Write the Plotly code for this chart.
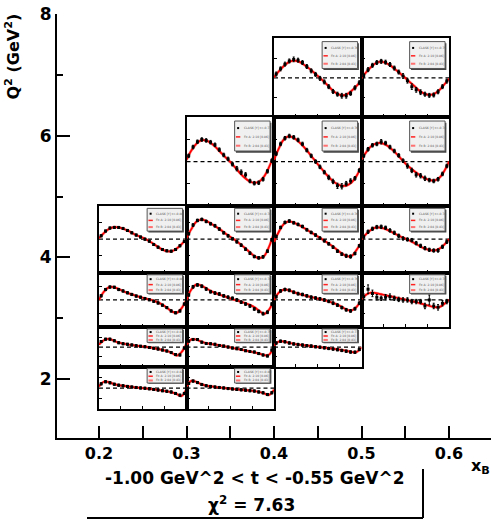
import plotly.graph_objects as go

W, H = 492, 520

# Kinematic bin edges of the (x_B, Q^2) grid
xb_edges = [0.2, 0.3, 0.4, 0.5, 0.6]
q2_edges = [1.5, 2.2, 2.85, 3.75, 4.85, 6.3, 7.6]

# Azimuthal angle grids (deg): fit curve nodes and data bin centres
phi_fit = [0, 20, 40, 60, 80, 100, 120, 140, 160, 180, 200, 220, 240, 260, 280, 300, 320, 340, 360]
phi_pts = [9, 27, 45, 63, 81, 99, 117, 135, 153, 171, 189, 207, 225, 243, 261, 279, 297, 315, 333, 351]

# ---- per-bin values: fit curve, measured points, uncertainties (row = Q2 bin, col = xB bin)
fit_5_2 = [0.02, 0.17, 0.30, 0.40, 0.44, 0.42, 0.35, 0.26, 0.16, 0.05, -0.06, -0.18, -0.31, -0.40, -0.44, -0.41, -0.32, -0.20, -0.06]
pts_5_2 = [0.10, 0.23, 0.35, 0.43, 0.47, 0.45, 0.39, 0.29, 0.18, 0.09, -0.01, -0.10, -0.22, -0.34, -0.41, -0.45, -0.45, -0.39, -0.25, -0.12]
err_5_2 = [0.05, 0.05, 0.05, 0.05, 0.06, 0.05, 0.05, 0.05, 0.05, 0.05, 0.05, 0.05, 0.05, 0.05, 0.05, 0.06, 0.06, 0.05, 0.05, 0.05]

fit_5_3 = [0.00, 0.15, 0.28, 0.38, 0.41, 0.38, 0.31, 0.21, 0.11, 0.00, -0.11, -0.22, -0.33, -0.40, -0.43, -0.40, -0.31, -0.17, -0.02]
pts_5_3 = [0.06, 0.21, 0.32, 0.39, 0.42, 0.40, 0.34, 0.25, 0.15, 0.05, -0.07, -0.22, -0.30, -0.36, -0.41, -0.44, -0.43, -0.35, -0.22, -0.08]
err_5_3 = [0.05, 0.05, 0.05, 0.05, 0.05, 0.05, 0.05, 0.05, 0.05, 0.06, 0.06, 0.07, 0.06, 0.06, 0.05, 0.05, 0.05, 0.05, 0.05, 0.05]

fit_4_1 = [0.04, 0.25, 0.40, 0.48, 0.48, 0.42, 0.33, 0.21, 0.10, -0.01, -0.13, -0.26, -0.37, -0.45, -0.48, -0.45, -0.33, -0.12, 0.15]
pts_4_1 = [0.13, 0.33, 0.45, 0.50, 0.48, 0.44, 0.38, 0.27, 0.15, 0.06, -0.06, -0.16, -0.24, -0.30, -0.44, -0.49, -0.48, -0.40, -0.22, 0.02]
err_4_1 = [0.04, 0.04, 0.04, 0.04, 0.04, 0.04, 0.04, 0.04, 0.04, 0.04, 0.04, 0.05, 0.05, 0.05, 0.04, 0.04, 0.04, 0.04, 0.04, 0.04]

fit_4_2 = [0.04, 0.30, 0.50, 0.57, 0.54, 0.46, 0.35, 0.22, 0.08, -0.06, -0.19, -0.32, -0.43, -0.51, -0.55, -0.54, -0.47, -0.32, -0.10]
pts_4_2 = [0.18, 0.40, 0.53, 0.58, 0.55, 0.49, 0.40, 0.26, 0.13, 0.00, -0.12, -0.24, -0.36, -0.45, -0.55, -0.56, -0.50, -0.44, -0.38, -0.20]
err_4_2 = [0.04, 0.04, 0.04, 0.04, 0.04, 0.04, 0.04, 0.04, 0.04, 0.04, 0.04, 0.04, 0.05, 0.05, 0.06, 0.06, 0.05, 0.05, 0.04, 0.04]

fit_4_3 = [0.05, 0.22, 0.35, 0.41, 0.42, 0.38, 0.30, 0.20, 0.08, -0.04, -0.14, -0.23, -0.31, -0.38, -0.42, -0.43, -0.37, -0.22, 0.00]
pts_4_3 = [0.13, 0.28, 0.37, 0.40, 0.45, 0.42, 0.33, 0.24, 0.14, 0.02, -0.10, -0.20, -0.30, -0.32, -0.38, -0.42, -0.44, -0.40, -0.28, -0.10]
err_4_3 = [0.04, 0.04, 0.04, 0.04, 0.05, 0.04, 0.04, 0.04, 0.04, 0.04, 0.05, 0.05, 0.05, 0.05, 0.05, 0.04, 0.04, 0.04, 0.04, 0.04]

fit_3_0 = [0.03, 0.18, 0.30, 0.36, 0.35, 0.31, 0.25, 0.17, 0.10, 0.04, -0.03, -0.12, -0.22, -0.31, -0.36, -0.36, -0.28, -0.15, 0.00]
pts_3_0 = [0.10, 0.24, 0.33, 0.35, 0.35, 0.32, 0.26, 0.19, 0.12, 0.06, 0.00, -0.06, -0.16, -0.24, -0.31, -0.35, -0.36, -0.31, -0.20, -0.07]
err_3_0 = [0.03, 0.03, 0.03, 0.03, 0.03, 0.03, 0.03, 0.03, 0.03, 0.03, 0.03, 0.03, 0.03, 0.03, 0.03, 0.03, 0.03, 0.03, 0.03, 0.03]

fit_3_1 = [0.03, 0.30, 0.52, 0.58, 0.55, 0.47, 0.38, 0.28, 0.17, 0.07, -0.03, -0.14, -0.26, -0.39, -0.51, -0.57, -0.50, -0.22, 0.20]
pts_3_1 = [0.16, 0.42, 0.56, 0.59, 0.53, 0.46, 0.40, 0.30, 0.19, 0.10, 0.01, -0.08, -0.18, -0.30, -0.42, -0.52, -0.56, -0.53, -0.36, -0.02]
err_3_1 = [0.04, 0.04, 0.04, 0.04, 0.04, 0.04, 0.04, 0.04, 0.04, 0.04, 0.04, 0.04, 0.04, 0.04, 0.04, 0.04, 0.04, 0.04, 0.04, 0.04]

fit_3_2 = [-0.08, 0.22, 0.45, 0.53, 0.50, 0.43, 0.35, 0.26, 0.17, 0.08, -0.01, -0.11, -0.21, -0.32, -0.43, -0.51, -0.50, -0.32, -0.10]
pts_3_2 = [0.08, 0.35, 0.50, 0.54, 0.49, 0.44, 0.38, 0.28, 0.20, 0.12, 0.03, -0.05, -0.14, -0.24, -0.36, -0.45, -0.50, -0.52, -0.43, -0.20]
err_3_2 = [0.04, 0.04, 0.04, 0.04, 0.04, 0.04, 0.04, 0.04, 0.04, 0.04, 0.04, 0.04, 0.04, 0.04, 0.04, 0.04, 0.05, 0.05, 0.04, 0.04]

fit_3_3 = [0.00, 0.16, 0.28, 0.35, 0.34, 0.30, 0.23, 0.15, 0.08, 0.02, -0.05, -0.13, -0.21, -0.28, -0.33, -0.34, -0.29, -0.17, 0.00]
pts_3_3 = [0.07, 0.22, 0.31, 0.36, 0.37, 0.34, 0.26, 0.19, 0.10, 0.02, -0.01, -0.03, -0.12, -0.20, -0.27, -0.32, -0.34, -0.34, -0.23, -0.08]
err_3_3 = [0.05, 0.05, 0.05, 0.05, 0.05, 0.05, 0.05, 0.05, 0.05, 0.05, 0.05, 0.05, 0.05, 0.05, 0.05, 0.05, 0.05, 0.05, 0.05, 0.05]

fit_2_0 = [0.00, 0.30, 0.46, 0.47, 0.40, 0.32, 0.25, 0.19, 0.13, 0.08, 0.03, -0.01, -0.08, -0.17, -0.29, -0.42, -0.47, -0.30, 0.00]
pts_2_0 = [0.15, 0.38, 0.47, 0.46, 0.38, 0.33, 0.26, 0.20, 0.14, 0.10, 0.05, 0.01, -0.05, -0.11, -0.19, -0.28, -0.40, -0.47, -0.40, -0.15]
err_2_0 = [0.04, 0.04, 0.04, 0.04, 0.04, 0.04, 0.04, 0.04, 0.04, 0.04, 0.04, 0.04, 0.04, 0.04, 0.04, 0.04, 0.04, 0.04, 0.04, 0.04]

fit_2_1 = [0.00, 0.38, 0.56, 0.53, 0.43, 0.33, 0.25, 0.18, 0.12, 0.06, 0.00, -0.05, -0.11, -0.18, -0.27, -0.40, -0.51, -0.35, 0.00]
pts_2_1 = [0.18, 0.48, 0.55, 0.50, 0.40, 0.30, 0.25, 0.22, 0.15, 0.10, 0.06, 0.00, -0.08, -0.15, -0.22, -0.33, -0.42, -0.50, -0.45, -0.15]
err_2_1 = [0.05, 0.05, 0.05, 0.05, 0.05, 0.05, 0.05, 0.05, 0.05, 0.05, 0.05, 0.05, 0.05, 0.05, 0.05, 0.05, 0.05, 0.05, 0.05, 0.05]

fit_2_2 = [0.00, 0.27, 0.38, 0.36, 0.29, 0.23, 0.18, 0.13, 0.09, 0.05, 0.01, -0.04, -0.10, -0.17, -0.26, -0.36, -0.38, -0.25, 0.00]
pts_2_2 = [0.12, 0.33, 0.38, 0.35, 0.28, 0.23, 0.20, 0.15, 0.10, 0.07, 0.04, 0.00, -0.05, -0.12, -0.19, -0.28, -0.36, -0.40, -0.32, -0.12]
err_2_2 = [0.05, 0.05, 0.05, 0.05, 0.05, 0.05, 0.05, 0.05, 0.05, 0.05, 0.05, 0.05, 0.05, 0.05, 0.05, 0.05, 0.05, 0.05, 0.05, 0.05]

fit_2_3 = [0.03, 0.20, 0.27, 0.25, 0.21, 0.17, 0.13, 0.09, 0.05, 0.01, -0.03, -0.07, -0.12, -0.17, -0.22, -0.26, -0.26, -0.15, 0.00]
pts_2_3 = [0.12, 0.39, 0.24, 0.10, 0.06, 0.10, 0.12, 0.06, 0.02, 0.00, 0.00, -0.06, -0.06, -0.06, -0.22, 0.00, -0.22, -0.27, -0.12, -0.06]
err_2_3 = [0.10, 0.16, 0.12, 0.10, 0.08, 0.10, 0.10, 0.08, 0.08, 0.08, 0.08, 0.08, 0.08, 0.08, 0.10, 0.18, 0.10, 0.10, 0.10, 0.08]

fit_1_0 = [0.12, 0.35, 0.41, 0.33, 0.23, 0.17, 0.13, 0.10, 0.06, 0.03, 0.00, -0.04, -0.09, -0.14, -0.20, -0.30, -0.43, -0.25, 0.17]
pts_1_0 = [0.28, 0.40, 0.40, 0.32, 0.22, 0.17, 0.14, 0.11, 0.07, 0.04, 0.02, -0.02, -0.06, -0.10, -0.15, -0.20, -0.28, -0.38, -0.40, -0.05]
err_1_0 = [0.05, 0.05, 0.05, 0.05, 0.05, 0.05, 0.05, 0.05, 0.05, 0.05, 0.05, 0.05, 0.05, 0.05, 0.05, 0.05, 0.05, 0.05, 0.05, 0.05]

fit_1_1 = [0.12, 0.39, 0.38, 0.28, 0.20, 0.16, 0.12, 0.08, 0.03, -0.02, -0.07, -0.12, -0.17, -0.22, -0.27, -0.33, -0.41, -0.38, 0.07]
pts_1_1 = [0.30, 0.38, 0.38, 0.25, 0.18, 0.17, 0.14, 0.08, 0.05, 0.00, -0.05, -0.08, -0.12, -0.18, -0.22, -0.25, -0.33, -0.40, -0.45, -0.15]
err_1_1 = [0.05, 0.05, 0.05, 0.05, 0.05, 0.05, 0.05, 0.05, 0.05, 0.05, 0.05, 0.05, 0.05, 0.05, 0.05, 0.05, 0.05, 0.05, 0.05, 0.05]

fit_1_2 = [0.08, 0.28, 0.28, 0.22, 0.17, 0.13, 0.10, 0.07, 0.04, 0.01, -0.02, -0.05, -0.08, -0.11, -0.15, -0.19, -0.25, -0.25, -0.02]
pts_1_2 = [0.20, 0.30, 0.27, 0.21, 0.16, 0.13, 0.10, 0.07, 0.05, 0.02, -0.01, -0.04, -0.07, -0.10, -0.13, -0.17, -0.21, -0.25, -0.26, -0.12]
err_1_2 = [0.06, 0.06, 0.06, 0.06, 0.06, 0.06, 0.06, 0.06, 0.06, 0.06, 0.06, 0.06, 0.06, 0.06, 0.06, 0.06, 0.06, 0.06, 0.06, 0.06]

fit_0_0 = [0.08, 0.30, 0.28, 0.20, 0.14, 0.11, 0.08, 0.05, 0.02, 0.00, -0.02, -0.05, -0.08, -0.11, -0.15, -0.20, -0.28, -0.37, -0.05]
pts_0_0 = [0.20, 0.30, 0.25, 0.18, 0.14, 0.11, 0.08, 0.05, 0.03, 0.01, -0.01, -0.03, -0.06, -0.09, -0.12, -0.15, -0.18, -0.25, -0.33, -0.25]
err_0_0 = [0.05, 0.05, 0.05, 0.05, 0.05, 0.05, 0.05, 0.05, 0.05, 0.05, 0.05, 0.05, 0.05, 0.05, 0.05, 0.05, 0.05, 0.05, 0.05, 0.05]

fit_0_1 = [0.08, 0.34, 0.30, 0.19, 0.12, 0.08, 0.05, 0.03, 0.00, -0.02, -0.05, -0.07, -0.09, -0.11, -0.14, -0.18, -0.25, -0.32, -0.08]
pts_0_1 = [0.22, 0.33, 0.26, 0.17, 0.11, 0.08, 0.05, 0.03, 0.01, -0.02, -0.04, -0.06, -0.08, -0.10, -0.12, -0.14, -0.18, -0.22, -0.30, -0.22]
err_0_1 = [0.05, 0.05, 0.05, 0.05, 0.05, 0.05, 0.05, 0.05, 0.05, 0.05, 0.05, 0.05, 0.05, 0.05, 0.05, 0.05, 0.05, 0.05, 0.05, 0.05]

# Legend captions for each bin (row, col)
legend_data = {
    (5, 2): "CLAS6 [Y] t=-0.76", (5, 3): "CLAS6 [Y] t=-0.75",
    (4, 1): "CLAS6 [Y] t=-0.77", (4, 2): "CLAS6 [Y] t=-0.76", (4, 3): "CLAS6 [Y] t=-0.74",
    (3, 0): "CLAS6 [Y] t=-0.80", (3, 1): "CLAS6 [Y] t=-0.78", (3, 2): "CLAS6 [Y] t=-0.76", (3, 3): "CLAS6 [Y] t=-0.74",
    (2, 0): "CLAS6 [Y] t=-0.80", (2, 1): "CLAS6 [Y] t=-0.78", (2, 2): "CLAS6 [Y] t=-0.76", (2, 3): "CLAS6 [Y] t=-0.74",
    (1, 0): "CLAS6 [Y] t=-0.81", (1, 1): "CLAS6 [Y] t=-0.79", (1, 2): "CLAS6 [Y] t=-0.77",
    (0, 0): "CLAS6 [Y] t=-0.82", (0, 1): "CLAS6 [Y] t=-0.80",
}
legend_fit_a = "Fit A: 2.10 [0.86]"
legend_fit_b = "Fit B: 2.04 [0.83]"

panels = [
    (5, 2, fit_5_2, pts_5_2, err_5_2), (5, 3, fit_5_3, pts_5_3, err_5_3),
    (4, 1, fit_4_1, pts_4_1, err_4_1), (4, 2, fit_4_2, pts_4_2, err_4_2), (4, 3, fit_4_3, pts_4_3, err_4_3),
    (3, 0, fit_3_0, pts_3_0, err_3_0), (3, 1, fit_3_1, pts_3_1, err_3_1),
    (3, 2, fit_3_2, pts_3_2, err_3_2), (3, 3, fit_3_3, pts_3_3, err_3_3),
    (2, 0, fit_2_0, pts_2_0, err_2_0), (2, 1, fit_2_1, pts_2_1, err_2_1),
    (2, 2, fit_2_2, pts_2_2, err_2_2), (2, 3, fit_2_3, pts_2_3, err_2_3),
    (1, 0, fit_1_0, pts_1_0, err_1_0), (1, 1, fit_1_1, pts_1_1, err_1_1), (1, 2, fit_1_2, pts_1_2, err_1_2),
    (0, 0, fit_0_0, pts_0_0, err_0_0), (0, 1, fit_0_1, pts_0_1, err_0_1),
]

# Outer (x_B, Q^2) frame
main_x_range = [0.152, 0.648]
main_y_range = [1.03, 8.01]
main_x_dom = [57 / W, 491 / W]
main_y_dom = [(H - 438) / H, (H - 13.5) / H]


def paper_x(v):
    return main_x_dom[0] + (v - main_x_range[0]) / (main_x_range[1] - main_x_range[0]) * (main_x_dom[1] - main_x_dom[0])


def paper_y(v):
    return main_y_dom[0] + (v - main_y_range[0]) / (main_y_range[1] - main_y_range[0]) * (main_y_dom[1] - main_y_dom[0])


BOLD = dict(family="DejaVu Sans", color="black", weight="bold")

fig = go.Figure()
fig.add_trace(go.Scatter(x=[], y=[], xaxis="x", yaxis="y", showlegend=False))

layout = dict(
    width=W, height=H, margin=dict(l=0, r=0, t=0, b=0, autoexpand=False),
    paper_bgcolor="white", plot_bgcolor="rgba(0,0,0,0)", showlegend=False,
    xaxis=dict(domain=main_x_dom, range=main_x_range, anchor="y", automargin=False,
               showline=True, linewidth=2, linecolor="black", showgrid=False, zeroline=False,
               ticks="inside", ticklen=12, tickwidth=2, tickcolor="black",
               tick0=0.2, dtick=0.1, tickformat=".1f",
               tickfont=dict(size=16, **BOLD),
               minor=dict(ticks="inside", tick0=0.15, dtick=0.05, ticklen=12, tickwidth=2, tickcolor="black")),
    yaxis=dict(domain=main_y_dom, range=main_y_range, anchor="x", automargin=False,
               showline=True, linewidth=2, linecolor="black", showgrid=False, zeroline=False,
               ticks="inside", ticklen=13, tickwidth=2, tickcolor="black",
               tickvals=[2, 4, 6, 8], ticktext=["2", "4", "6", "8"],
               tickfont=dict(size=17, **BOLD),
               minor=dict(ticks="inside", tickvals=[3, 5, 7], ticklen=6, tickwidth=2, tickcolor="black")),
)

shapes = []
annotations = []
legend_rows = [0.88, 0.78, 0.68]

for i, (row, col, fit, pts, err) in enumerate(panels):
    n = i + 2
    xa, ya = f"x{n}", f"y{n}"
    layout[f"xaxis{n}"] = dict(
        domain=[paper_x(xb_edges[col]), paper_x(xb_edges[col + 1])], range=[0, 360], anchor=ya,
        automargin=False,
        showline=True, mirror=True, linewidth=2, linecolor="black", showgrid=False, zeroline=False,
        ticks="inside", tickvals=[90, 180, 270], ticklen=3, tickwidth=1, tickcolor="black", showticklabels=False)
    layout[f"yaxis{n}"] = dict(
        domain=[paper_y(q2_edges[row]), paper_y(q2_edges[row + 1])], range=[-1, 1], anchor=xa,
        automargin=False,
        showline=True, mirror=True, linewidth=2, linecolor="black", showgrid=False, zeroline=False,
        ticks="inside", tickvals=[-0.5, 0.5], ticklen=3, tickwidth=1, tickcolor="black", showticklabels=False)

    fig.add_trace(go.Scatter(x=[0, 360], y=[0, 0], xaxis=xa, yaxis=ya, mode="lines",
                             line=dict(color="black", width=1.3, dash="4px,3px"), hoverinfo="skip"))
    fig.add_trace(go.Scatter(x=phi_fit, y=fit, xaxis=xa, yaxis=ya, mode="lines",
                             line=dict(color="rgba(255,90,90,0.6)", width=2.8, shape="spline"), hoverinfo="skip"))
    fig.add_trace(go.Scatter(x=phi_fit, y=fit, xaxis=xa, yaxis=ya, mode="lines",
                             line=dict(color="#ff0000", width=1.7, shape="spline"), hoverinfo="skip"))
    fig.add_trace(go.Scatter(x=phi_pts, y=pts, xaxis=xa, yaxis=ya, mode="markers",
                             marker=dict(symbol="square", size=3, color="black"),
                             error_y=dict(type="data", array=err, color="black", thickness=1, width=1),
                             hoverinfo="skip"))

    # Per-bin legend box
    xr, yr = f"{xa} domain", f"{ya} domain"
    shapes.append(dict(type="rect", xref=xr, yref=yr, x0=0.565, x1=0.97, y0=0.60, y1=0.94,
                       fillcolor="#444444", line=dict(width=0), layer="above"))
    shapes.append(dict(type="rect", xref=xr, yref=yr, x0=0.55, x1=0.955, y0=0.62, y1=0.96,
                       fillcolor="#f0f0f0", line=dict(color="#555555", width=1), layer="above"))
    shapes.append(dict(type="rect", xref=xr, yref=yr, xsizemode="pixel", ysizemode="pixel",
                       xanchor=0.59, yanchor=legend_rows[0], x0=-1, x1=1, y0=-1, y1=1,
                       fillcolor="black", line=dict(width=0), layer="above"))
    shapes.append(dict(type="line", xref=xr, yref=yr, x0=0.565, x1=0.615, y0=legend_rows[1], y1=legend_rows[1],
                       line=dict(color="#ff2020", width=1.5), layer="above"))
    shapes.append(dict(type="line", xref=xr, yref=yr, x0=0.565, x1=0.615, y0=legend_rows[2], y1=legend_rows[2],
                       line=dict(color="#ff7070", width=2), layer="above"))
    for yrow, txt in zip(legend_rows, [legend_data[(row, col)], legend_fit_a, legend_fit_b]):
        annotations.append(dict(xref=xr, yref=yr, x=0.63, y=yrow, text=txt, showarrow=False,
                                xanchor="left", yanchor="middle",
                                font=dict(family="DejaVu Sans", size=3, color="#555555")))

# Axis titles
annotations.append(dict(xref="paper", yref="paper", x=12.5 / W, y=(H - 57) / H, textangle=-90,
                        text="Q<sup>2</sup> (GeV<sup>2</sup>)", showarrow=False,
                        xanchor="center", yanchor="middle", font=dict(size=16, **BOLD)))
annotations.append(dict(xref="paper", yref="paper", x=480 / W, y=(H - 466) / H,
                        text="x<sub>B</sub>", showarrow=False,
                        xanchor="center", yanchor="middle", font=dict(size=16, **BOLD)))

# t-bin caption and fit quality
annotations.append(dict(xref="paper", yref="paper", x=255 / W, y=(H - 478) / H,
                        text="-1.00 GeV^2 &lt; t &lt; -0.55 GeV^2", showarrow=False,
                        xanchor="center", yanchor="middle", font=dict(size=17, **BOLD)))
annotations.append(dict(xref="paper", yref="paper", x=251 / W, y=(H - 504) / H,
                        text="χ<sup>2</sup> = 7.63", showarrow=False,
                        xanchor="center", yanchor="middle", font=dict(size=17, **BOLD)))
shapes.append(dict(type="line", xref="paper", yref="paper", x0=423 / W, x1=423 / W,
                   y0=(H - 469) / H, y1=(H - 518) / H, line=dict(color="black", width=2)))
shapes.append(dict(type="line", xref="paper", yref="paper", x0=87 / W, x1=423 / W,
                   y0=(H - 518) / H, y1=(H - 518) / H, line=dict(color="black", width=2)))

layout["shapes"] = shapes
layout["annotations"] = annotations
fig.update_layout(**layout)

fig.write_html("out.html")
